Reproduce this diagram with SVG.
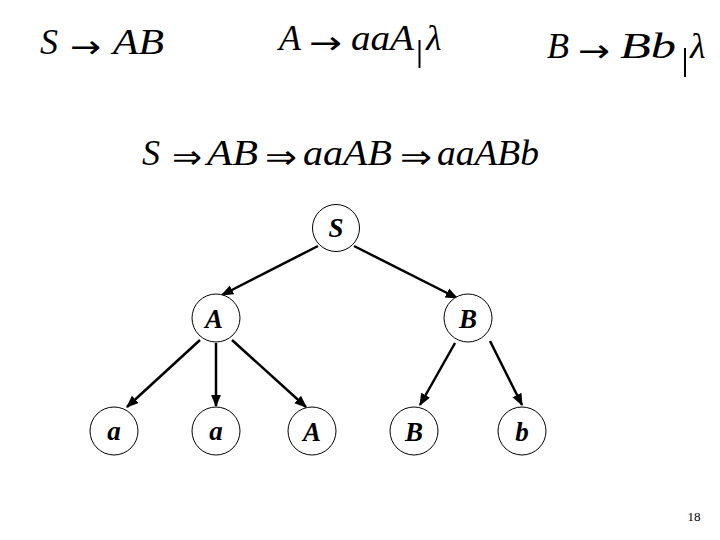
<svg xmlns="http://www.w3.org/2000/svg" width="720" height="540" viewBox="0 0 720 540">
<style>
.t{font-family:"Liberation Serif","Times New Roman",serif;font-style:italic;font-size:36px;fill:#000}
.o{font-family:"DejaVu Sans","Liberation Sans",sans-serif;font-style:normal;font-size:32px;fill:#000}
.n circle{fill:#fff;stroke:#000;stroke-width:1}
.n text{font-family:"Liberation Serif","Times New Roman",serif;font-style:italic;font-weight:bold;font-size:27px;text-anchor:middle;fill:#000}
.c line{stroke:#000;stroke-width:2.5}
</style>
<defs>
<marker id="ah" viewBox="0 0 10 10" refX="9" refY="5" markerWidth="5" markerHeight="5" markerUnits="strokeWidth" orient="auto">
<path d="M0,1 L10,5 L0,9 z" fill="#000"/>
</marker>
</defs>
<rect width="720" height="540" fill="#fff"/>
<g id="rules">
<text class="t" x="40" y="54">S</text>
<text class="o" x="70" y="58" textLength="31" lengthAdjust="spacingAndGlyphs">→</text>
<text class="t" x="113" y="54" textLength="51" lengthAdjust="spacingAndGlyphs">AB</text>

<text class="t" x="279" y="50">A</text>
<text class="o" x="309" y="54" textLength="33" lengthAdjust="spacingAndGlyphs">→</text>
<text class="t" x="351" y="50" textLength="63" lengthAdjust="spacingAndGlyphs">aaA</text>
<rect x="418.5" y="40" width="2" height="28"/>
<text class="t" x="426" y="50">λ</text>

<text class="t" x="547" y="58">B</text>
<text class="o" x="578" y="62" textLength="32" lengthAdjust="spacingAndGlyphs">→</text>
<text class="t" x="620" y="58" textLength="56" lengthAdjust="spacingAndGlyphs">Bb</text>
<rect x="684" y="48" width="2" height="29"/>
<text class="t" x="690" y="58">λ</text>
</g>
<g id="derivation">
<text class="t" x="142" y="165">S</text>
<text class="o" x="172" y="168" textLength="30" lengthAdjust="spacingAndGlyphs">⇒</text>
<text class="t" x="207" y="165" textLength="51" lengthAdjust="spacingAndGlyphs">AB</text>
<text class="o" x="265" y="168" textLength="32" lengthAdjust="spacingAndGlyphs">⇒</text>
<text class="t" x="303" y="165" textLength="89" lengthAdjust="spacingAndGlyphs">aaAB</text>
<text class="o" x="400" y="168" textLength="32" lengthAdjust="spacingAndGlyphs">⇒</text>
<text class="t" x="437" y="165" textLength="102" lengthAdjust="spacingAndGlyphs">aaABb</text>
</g>
<g class="c">
<line x1="318" y1="246" x2="222" y2="295" marker-end="url(#ah)"/>
<line x1="354" y1="246" x2="457" y2="298" marker-end="url(#ah)"/>
<line x1="200" y1="340" x2="127" y2="407" marker-end="url(#ah)"/>
<line x1="216" y1="343" x2="216" y2="406" marker-end="url(#ah)"/>
<line x1="232" y1="340" x2="306" y2="407" marker-end="url(#ah)"/>
<line x1="455" y1="343" x2="420" y2="405" marker-end="url(#ah)"/>
<line x1="490" y1="341" x2="522" y2="405" marker-end="url(#ah)"/>
</g>
<g id="nS" class="n"><circle cx="336" cy="228" r="23.5"/><text x="336" y="237">S</text></g>
<g id="nA" class="n"><circle cx="216" cy="318" r="24"/><text x="214" y="328">A</text></g>
<g id="nB" class="n"><circle cx="468" cy="318" r="24"/><text x="468" y="328">B</text></g>
<g id="l1" class="n"><circle cx="114" cy="431" r="24"/><text x="114" y="440">a</text></g>
<g id="l2" class="n"><circle cx="216" cy="431" r="24"/><text x="216" y="440">a</text></g>
<g id="l3" class="n"><circle cx="312" cy="431" r="24"/><text x="312" y="441">A</text></g>
<g id="l4" class="n"><circle cx="414" cy="431" r="24"/><text x="414" y="441">B</text></g>
<g id="l5" class="n"><circle cx="522" cy="431" r="24"/><text x="522" y="441">b</text></g>
<text x="694" y="521" font-family="Liberation Serif, serif" font-size="13" text-anchor="middle">18</text>
</svg>
